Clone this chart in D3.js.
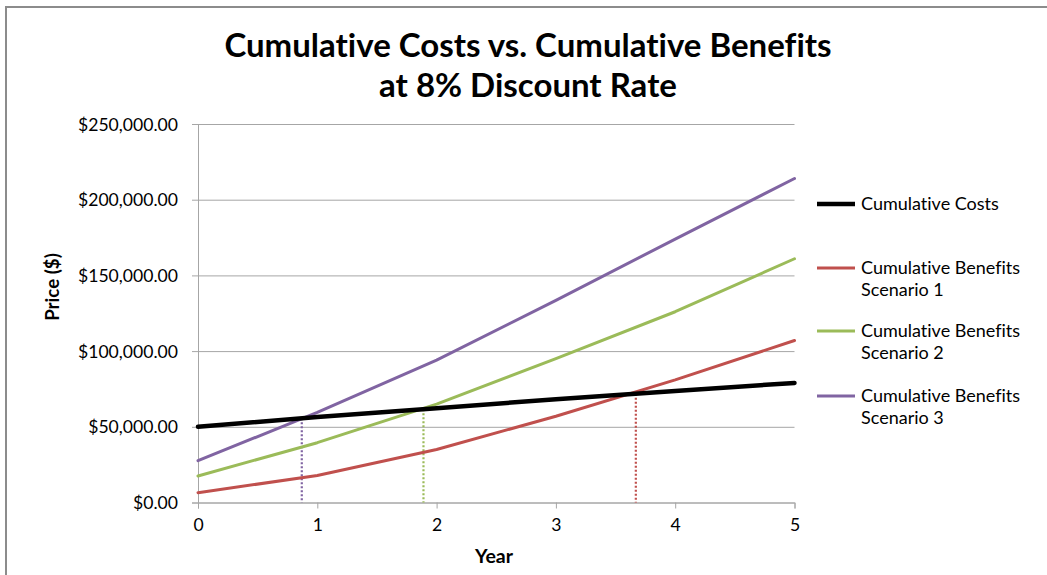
<!DOCTYPE html>
<html>
<head>
<meta charset="utf-8">
<script src="https://cdn.jsdelivr.net/npm/d3@7/dist/d3.min.js"></script>
<style>
  html, body { margin: 0; padding: 0; background: #fff; }
  svg { display: block; font-family: Lato, "Open Sans", sans-serif; font-variant-ligatures: none; }
  text { font-variant-ligatures: none; }
</style>
</head>
<body>
<svg id="chart" width="1047" height="575"></svg>
<script>
// Years on the horizontal axis
const years = [0, 1, 2, 3, 4, 5];

// Cumulative discounted amounts per year ($)
const cumulativeCosts = [50000, 56500, 62300, 68200, 73700, 79000];
const benefitsScenario1 = [6500, 17800, 35000, 57000, 81000, 107000];
const benefitsScenario2 = [17500, 39500, 65000, 95000, 126000, 161000];
const benefitsScenario3 = [27600, 59500, 94000, 133500, 174000, 214000];

// Payback year for each scenario (where benefits overtake costs)
const paybackYears = [3.67, 1.89, 0.87];

const seriesNames = [
  "Cumulative Costs",
  "Cumulative Benefits Scenario 1",
  "Cumulative Benefits Scenario 2",
  "Cumulative Benefits Scenario 3"
];
const yTickValues = [0, 50000, 100000, 150000, 200000, 250000];

const colors = ["#000000", "#c0504d", "#9bbb59", "#8064a2"];
const widths = [4.5, 3, 3, 3];

const svg = d3.select("#chart");

// outer frame
svg.append("rect")
  .attr("x", 6).attr("y", 7)
  .attr("width", 1060).attr("height", 600)
  .attr("fill", "none").attr("stroke", "#8c8c8c").attr("stroke-width", 2);

const x = d3.scaleLinear().domain([0, 5]).range([198, 794.5]);
const y = d3.scaleLinear().domain([0, 250000]).range([502.5, 124]);

const money = d3.format("$,.2f");

// horizontal gridlines with left tick stubs
const yAxis = d3.axisLeft(y)
  .tickValues(yTickValues)
  .tickSize(6)
  .tickFormat(d => money(d));
const yg = svg.append("g").attr("transform", `translate(${x(0)},0)`).call(yAxis);
yg.select(".domain").attr("stroke", "#a6a6a6");
yg.selectAll(".tick line").attr("stroke", "#a6a6a6");
yg.selectAll(".tick text")
  .attr("x", -20).attr("dy", "0.35em")
  .attr("font-family", "Lato, sans-serif")
  .attr("font-size", 17.6).attr("fill", "#000");
yg.selectAll(".tick").append("line")
  .attr("x1", 0).attr("x2", x(5) - x(0))
  .attr("stroke", "#a6a6a6").attr("stroke-width", 1);

// x axis
const xAxis = d3.axisBottom(x).tickValues(years).tickSize(6).tickFormat(d3.format("d"));
const xg = svg.append("g").attr("transform", `translate(0,${y(0)})`).call(xAxis);
xg.select(".domain").attr("stroke", "#a6a6a6");
xg.selectAll(".tick line").attr("stroke", "#a6a6a6");
xg.selectAll(".tick text")
  .attr("y", 16).attr("dy", "0.71em")
  .attr("font-family", "Lato, sans-serif")
  .attr("font-size", 17.6).attr("fill", "#000");

// payback markers: dotted drop lines from the crossing down to the axis
const costAt = t => {
  const i = Math.min(Math.floor(t), years.length - 2);
  const f = t - years[i];
  return cumulativeCosts[i] + f * (cumulativeCosts[i + 1] - cumulativeCosts[i]);
};
svg.append("g").selectAll("line")
  .data(paybackYears)
  .join("line")
  .attr("x1", d => x(d)).attr("x2", d => x(d))
  .attr("y1", d => y(costAt(d)))
  .attr("y2", y(0))
  .attr("stroke", (d, i) => colors[i + 1])
  .attr("stroke-width", 2.2)
  .attr("stroke-dasharray", "2,2");

// series lines
const allSeries = [cumulativeCosts, benefitsScenario1, benefitsScenario2, benefitsScenario3];
const line = d3.line().x((d, i) => x(years[i])).y(d => y(d));
const order = [1, 2, 3, 0];
svg.append("g").selectAll("path")
  .data(order)
  .join("path")
  .attr("d", k => line(allSeries[k]))
  .attr("fill", "none")
  .attr("stroke", k => colors[k])
  .attr("stroke-width", k => widths[k])
  .attr("stroke-linejoin", "round")
  .attr("stroke-linecap", "round");

// title
const title = svg.append("text")
  .attr("x", 528).attr("text-anchor", "middle")
  .attr("font-family", "Lato, sans-serif")
  .attr("font-weight", "bold").attr("font-size", 33).attr("fill", "#000");
title.append("tspan").attr("x", 528).attr("y", 57).text("Cumulative Costs vs. Cumulative Benefits");
title.append("tspan").attr("x", 528).attr("y", 97).text("at 8% Discount Rate");

// axis titles
svg.append("text")
  .attr("transform", "translate(59,287) rotate(-90)")
  .attr("text-anchor", "middle")
  .attr("font-family", "Lato, sans-serif")
  .attr("font-weight", "bold").attr("font-size", 18.7).attr("fill", "#000")
  .text("Price ($)");
svg.append("text")
  .attr("x", 494).attr("y", 563)
  .attr("text-anchor", "middle")
  .attr("font-family", "Lato, sans-serif")
  .attr("font-weight", "bold").attr("font-size", 19.5).attr("fill", "#000")
  .text("Year");

// legend
const legendY = [204, 268, 331, 396];
const lg = svg.append("g").selectAll("g")
  .data(seriesNames)
  .join("g")
  .attr("transform", (d, i) => `translate(0,${legendY[i]})`);
lg.append("line")
  .attr("x1", 817).attr("x2", 855)
  .attr("stroke", (d, i) => colors[i])
  .attr("stroke-width", (d, i) => widths[i]);
lg.append("text")
  .attr("font-family", "Lato, sans-serif")
  .attr("font-size", 18).attr("fill", "#000")
  .each(function (d) {
    const t = d3.select(this);
    const parts = d.startsWith("Cumulative Benefits")
      ? ["Cumulative Benefits", d.replace("Cumulative Benefits ", "")]
      : [d];
    parts.forEach((p, j) => {
      t.append("tspan").attr("x", 861).attr("y", 6 + j * 22).text(p);
    });
  });
</script>
</body>
</html>
